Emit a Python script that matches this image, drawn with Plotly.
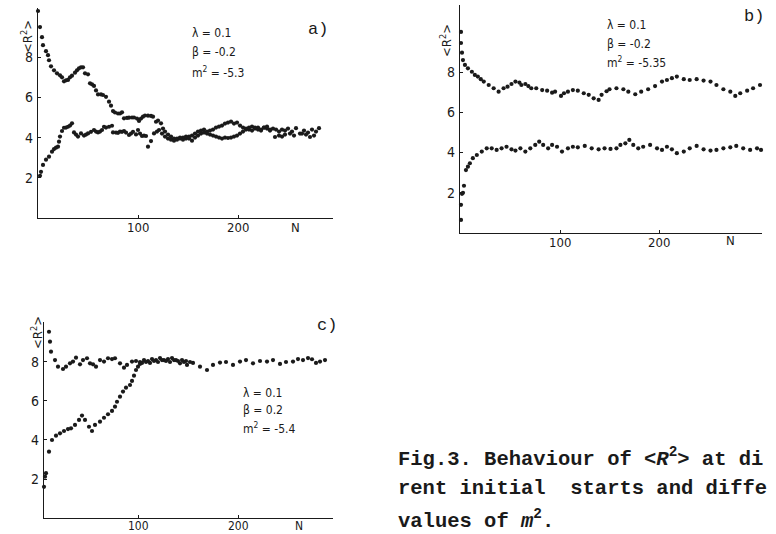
import plotly.graph_objects as go

# ---------------- data ----------------
# panel a)  lambda=0.1, beta=-0.2, m2=-5.3
a_hi_n = [0, 2, 4, 5, 8, 10, 11, 13, 16, 19, 22, 24, 26, 28, 30, 32, 34, 37, 39, 41, 43, 45, 47, 50,
          52, 54, 56, 58, 60, 63, 65, 68, 71, 73, 75, 77, 80, 82, 84, 86, 89, 91, 94, 96, 99, 101, 103,
          105, 107, 110, 113, 115, 118, 120, 123, 125, 127, 130, 133, 136, 139, 142, 145, 148, 151, 154,
          157, 160, 163, 166, 169, 172, 175, 178, 181, 184, 187, 190, 193, 196, 199, 202, 205, 208, 211,
          214, 217, 220, 223, 226, 229, 232, 235, 238, 241, 244, 247, 250, 254, 258, 262, 266, 270, 274,
          278, 281]
a_hi_r2 = [10.3, 9.5, 9.0, 8.6, 8.3, 8.1, 7.85, 7.55, 7.35, 7.2, 7.1, 7.0, 6.8, 6.85, 6.87, 7.0, 7.08,
           7.23, 7.35, 7.45, 7.5, 7.5, 7.2, 7.15, 6.7, 6.65, 6.57, 6.35, 6.15, 6.15, 6.12, 6.03, 5.79,
           5.59, 5.32, 5.25, 5.2, 5.2, 5.26, 4.96, 4.98, 4.99, 5.0, 5.0, 4.95, 4.83, 4.95, 5.04, 5.1,
           5.09, 5.08, 5.04, 4.79, 4.85, 4.71, 4.45, 4.3, 4.15, 4.05, 3.95, 3.9, 3.95, 4.0, 3.95, 4.05,
           4.1, 4.2, 4.3, 4.35, 4.4, 4.3, 4.35, 4.4, 4.5, 4.55, 4.6, 4.7, 4.75, 4.8, 4.7, 4.75, 4.6, 4.5,
           4.45, 4.4, 4.35, 4.45, 4.5, 4.4, 4.5, 4.45, 4.35, 4.45, 4.4, 4.3, 4.4, 4.35, 4.45, 4.3, 4.47,
           4.2, 4.35, 4.25, 4.4, 4.3, 4.47]
a_lo_n = [2, 3, 5, 8, 11, 14, 16, 18, 20, 21, 22, 24, 26, 28, 30, 32, 34, 36, 38, 40, 43, 46, 48, 50,
          53, 56, 58, 60, 62, 64, 66, 68, 71, 74, 75, 78, 80, 82, 84, 86, 88, 91, 93, 95, 98, 100, 102,
          104, 106, 108, 110, 113, 116, 119, 121, 124, 127, 130, 133, 136, 139, 142, 145, 148, 151, 154,
          157, 160, 163, 166, 169, 172, 175, 178, 181, 184, 187, 190, 193, 196, 199, 202, 205, 208, 211,
          214, 217, 220, 223, 226, 229, 232, 237, 241, 244, 247, 252, 256, 264, 268, 272, 276]
a_lo_r2 = [2.1, 2.3, 2.64, 2.9, 3.05, 3.3, 3.43, 3.5, 3.55, 3.8, 4.05, 4.33, 4.49, 4.5, 4.54, 4.6, 4.71,
           4.26, 4.15, 4.05, 4.21, 4.1, 4.15, 4.21, 4.29, 4.38, 4.3, 4.26, 4.3, 4.38, 4.54, 4.5, 4.54,
           4.59, 4.26, 4.25, 4.24, 4.3, 4.29, 4.33, 4.25, 4.13, 4.2, 4.29, 4.16, 4.38, 4.2, 4.08, 4.1,
           4.08, 3.55, 3.83, 4.21, 4.3, 4.38, 4.2, 4.05, 3.95, 3.9, 3.85, 3.95, 4.0, 3.9, 4.05, 3.95,
           3.85, 4.0, 4.1, 4.2, 4.25, 4.2, 4.15, 4.1, 4.05, 4.0, 3.95, 4.0, 3.98, 4.0, 4.05, 4.1, 4.2,
           4.3, 4.4, 4.5, 4.55, 4.5, 4.4, 4.35, 4.5, 4.55, 4.4, 4.03, 4.1, 4.05, 4.15, 4.2, 4.1, 4.2,
           4.15, 4.03, 4.1]

# panel b)  lambda=0.1, beta=-0.2, m2=-5.35
b_hi_n = [0, 0, 1, 2, 4, 7, 11, 14, 17, 20, 23, 28, 33, 38, 43, 47, 51, 55, 59, 61, 65, 68, 71, 76, 82,
          87, 92, 95, 101, 104, 108, 113, 118, 124, 129, 134, 139, 142, 147, 150, 157, 164, 169, 176,
          182, 189, 196, 203, 208, 213, 218, 225, 231, 238, 245, 252, 258, 265, 272, 277, 282, 289, 295,
          302]
b_hi_r2 = [10.0, 9.45, 8.97, 8.6, 8.36, 8.19, 8.02, 7.86, 7.78, 7.65, 7.53, 7.36, 7.2, 7.03, 7.2, 7.28,
           7.41, 7.53, 7.48, 7.36, 7.41, 7.31, 7.2, 7.2, 7.11, 7.08, 6.98, 7.03, 6.82, 6.95, 7.03, 7.11,
           7.08, 6.95, 6.87, 6.7, 6.62, 6.87, 7.05, 7.15, 7.2, 7.15, 7.03, 6.9, 7.03, 7.15, 7.31, 7.53,
           7.61, 7.7, 7.78, 7.65, 7.61, 7.65, 7.58, 7.53, 7.36, 7.15, 7.03, 6.82, 6.95, 7.08, 7.2, 7.36]
b_lo_n = [0, 0, 1, 2, 3, 5, 7, 9, 12, 16, 21, 26, 31, 36, 41, 46, 51, 55, 60, 65, 70, 75, 79, 83, 88,
          92, 97, 102, 108, 113, 118, 125, 132, 139, 145, 151, 157, 161, 166, 170, 174, 179, 184, 191,
          198, 203, 208, 213, 218, 225, 231, 238, 245, 252, 258, 265, 272, 278, 285, 292, 299, 303]
b_lo_r2 = [0.65, 1.4, 1.95, 2.0, 2.35, 3.13, 3.3, 3.47, 3.72, 3.88, 4.05, 4.21, 4.21, 4.13, 4.21, 4.29,
           4.16, 4.1, 4.21, 4.05, 4.21, 4.38, 4.54, 4.38, 4.21, 4.38, 4.29, 4.05, 4.21, 4.29, 4.26, 4.33,
           4.21, 4.16, 4.21, 4.18, 4.21, 4.38, 4.46, 4.63, 4.38, 4.21, 4.29, 4.38, 4.21, 4.13, 4.29, 4.16,
           3.97, 4.05, 4.21, 4.33, 4.16, 4.1, 4.13, 4.21, 4.26, 4.33, 4.21, 4.13, 4.21, 4.13]

# panel c)  lambda=0.1, beta=0.2, m2=-5.4
c_hi_n = [11, 12, 13, 17, 20, 25, 28, 32, 35, 38, 42, 45, 49, 52, 55, 58, 62, 66, 70, 74, 77, 82, 86,
          89, 94, 98, 102, 106, 110, 114, 118, 122, 126, 130, 134, 138, 142, 146, 149, 155, 162, 169,
          175, 182, 188, 195, 202, 208, 215, 222, 229, 235, 242, 248, 255, 260, 265, 270, 274, 278, 282,
          287]
c_hi_r2 = [9.55, 9.04, 8.53, 8.1, 7.76, 7.64, 7.76, 7.93, 8.02, 8.22, 7.88, 8.1, 8.19, 7.93, 7.88, 7.76,
           8.1, 8.02, 8.19, 8.15, 8.19, 7.93, 7.71, 7.85, 8.02, 8.05, 8.0, 8.1, 8.05, 8.15, 8.1, 8.2, 8.1,
           8.15, 8.2, 8.1, 7.93, 8.0, 7.85, 7.95, 7.76, 7.59, 7.85, 7.97, 8.0, 7.85, 8.02, 8.1, 7.93,
           8.05, 8.02, 8.1, 7.9, 8.0, 8.02, 8.15, 8.1, 8.2, 8.14, 7.95, 8.02, 8.1]
c_lo_n = [6, 7, 8, 11, 14, 18, 22, 26, 30, 33, 37, 41, 44, 47, 51, 54, 57, 62, 66, 70, 74, 77, 79, 82,
          85, 88, 92, 94, 96, 98, 100, 102, 104, 108, 112, 116, 120, 124, 128, 132, 136, 140, 144, 148,
          152]
c_lo_r2 = [1.6, 2.12, 2.3, 3.4, 4.0, 4.22, 4.34, 4.46, 4.56, 4.6, 4.77, 5.03, 5.25, 5.03, 4.68, 4.46,
           4.77, 4.94, 5.14, 5.32, 5.49, 5.71, 5.96, 6.22, 6.48, 6.68, 6.82, 7.03, 7.3, 7.59, 7.76, 7.9,
           7.95, 8.0, 7.95, 8.05, 8.0, 8.1, 8.05, 8.0, 8.1, 8.05, 8.1, 8.05, 8.0]

x_ticks = [100, 200]
x_tick_text = ["100", "200"]
y_ticks = [2, 4, 6, 8]
y_tick_text = ["2", "4", "6", "8"]

panel_params = {
    "a": ["λ = 0.1", "β = -0.2", "m<sup>2</sup> = -5.3"],
    "b": ["λ = 0.1", "β = -0.2", "m<sup>2</sup> = -5.35"],
    "c": ["λ = 0.1", "β = 0.2", "m<sup>2</sup> = -5.4"],
}
caption_lines = [
    "<b>Fig.3. Behaviour of &lt;<i>R</i><sup>2</sup>&gt; at di</b>",
    "<b>rent initial&nbsp; starts and diffe</b>",
    "<b>values of <i>m</i><sup>2</sup>.</b>",
]

# ---------------- figure ----------------
W, H = 776, 534
INK = "#1a1a1a"
SANS = "Liberation Sans Narrow, DejaVu Sans Condensed, Liberation Sans, sans-serif"
MONO = "Liberation Mono, DejaVu Sans Mono, monospace"


def px(x):
    return x / W


def py(y):
    return 1 - y / H


fig = go.Figure()

series = [
    ("x", "y", a_hi_n, a_hi_r2), ("x", "y", a_lo_n, a_lo_r2),
    ("x2", "y2", b_hi_n, b_hi_r2), ("x2", "y2", b_lo_n, b_lo_r2),
    ("x3", "y3", c_hi_n, c_hi_r2), ("x3", "y3", c_lo_n, c_lo_r2),
]
for xa, ya, n, r in series:
    fig.add_trace(go.Scatter(x=n, y=r, xaxis=xa, yaxis=ya, mode="markers",
                             marker=dict(size=4.2, color=INK), cliponaxis=False,
                             showlegend=False, hoverinfo="skip"))

axis_common = dict(showline=True, linecolor=INK, linewidth=1.4, showgrid=False, zeroline=False,
                   ticks="inside", ticklen=3, tickwidth=1, tickcolor=INK,
                   tickfont=dict(family=SANS, size=14, color=INK), fixedrange=True)

layouts = {
    # name: (x domain px, x range, y domain px (bottom, top), y range)
    "1": ((38, 333), [0, 295], (218, 8), [0, 10.45]),
    "2": ((460, 762), [-1, 304], (233, 5), [0, 11.34]),
    "3": ((44, 333), [6, 295], (518, 322), [0, 10.05]),
}
for k, (xd, xr, yd, yr) in layouts.items():
    xname = "xaxis" if k == "1" else f"xaxis{k}"
    yname = "yaxis" if k == "1" else f"yaxis{k}"
    anchor_y = "y" if k == "1" else f"y{k}"
    anchor_x = "x" if k == "1" else f"x{k}"
    fig.update_layout({
        xname: dict(domain=[px(xd[0]), px(xd[1])], range=xr, anchor=anchor_y,
                    tickvals=x_ticks, showticklabels=False, **axis_common),
        yname: dict(domain=[py(yd[0]), py(yd[1])], range=yr, anchor=anchor_x,
                    tickvals=y_ticks, ticktext=y_tick_text, ticklabelstandoff=1, **axis_common),
    })

ann = []


def text(x, y, t, size=12, family=SANS, angle=0, xanchor="center"):
    ann.append(dict(x=px(x), y=py(y), xref="paper", yref="paper", text=t, showarrow=False,
                    textangle=angle, xanchor=xanchor, yanchor="middle",
                    font=dict(family=family, size=size, color=INK)))


# x tick labels placed at data positions of each axis, just below the axis line
for xr_, yr_, shift, size in [("x", "y", -9, 13), ("x2", "y2", -9, 13), ("x3", "y3", -8, 12)]:
    for v, t in zip(x_ticks, x_tick_text):
        ann.append(dict(x=v, y=0, xref=xr_, yref=yr_, text=t, showarrow=False, yanchor="middle",
                        yshift=shift, font=dict(family=SANS, size=size, color=INK)))

# parameter blocks
for (x0, ys), key in [((190, (33, 52, 72)), "a"), ((605, (25, 44, 62)), "b"), ((241, (393, 410, 428)), "c")]:
    for yy, t in zip(ys, panel_params[key]):
        text(x0, yy, t, size=12, xanchor="left")

# panel letters
text(318, 29, "a)", size=17, family=MONO)
text(754, 17, "b)", size=17, family=MONO)
text(327, 325, "c)", size=17, family=MONO)

# y-axis titles
for x0, y0 in [(27, 37), (446, 40), (37, 333)]:
    text(x0, y0, "&lt;R<sup>2</sup>&gt;", size=13, angle=-90)

# N labels
text(295, 227, "N", size=13)
text(730, 240, "N", size=13)
text(299, 526, "N", size=12)

# caption
for yy, t in zip([457, 488, 519], caption_lines):
    text(396, yy, t, size=20.5, family=MONO, xanchor="left")

fig.update_layout(width=W, height=H, autosize=False, margin=dict(l=0, r=0, t=0, b=0),
                  paper_bgcolor="white", plot_bgcolor="white", annotations=ann)

fig.write_html("out.html", config={"displayModeBar": False},
               post_script="document.body.style.margin='0';document.body.style.overflow='hidden';")
